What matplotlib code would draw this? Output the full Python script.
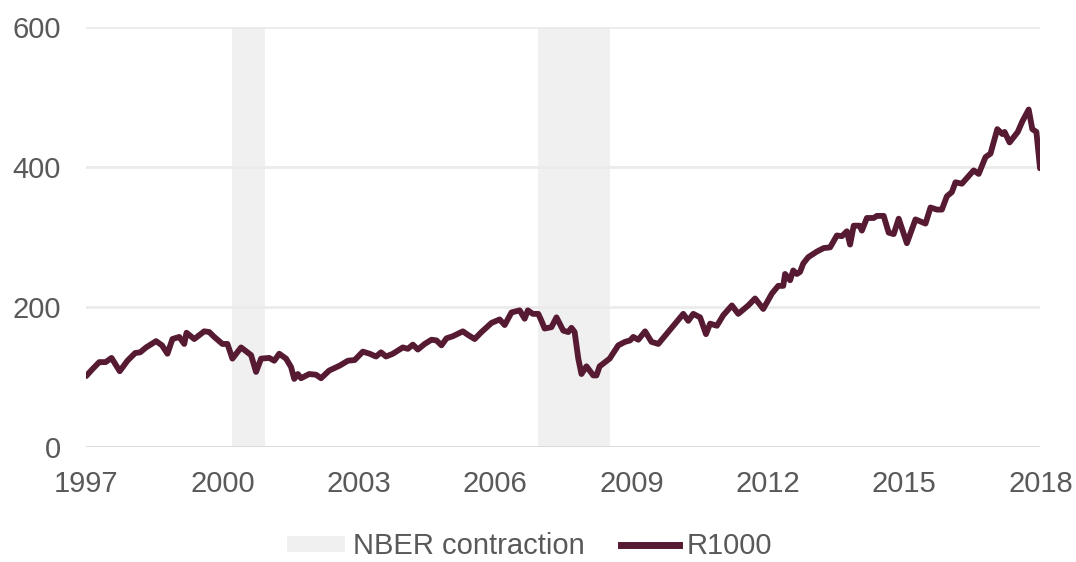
import matplotlib
matplotlib.use('Agg')
import matplotlib.pyplot as plt
from matplotlib.patches import Patch
from matplotlib.lines import Line2D

plt.rcParams['font.family'] = ['Liberation Sans', 'DejaVu Sans']

# R1000 index level (decimal year, value)
years = [
    1997.00, 1997.14, 1997.29, 1997.43, 1997.56, 1997.74, 1997.91, 1998.08,
    1998.19, 1998.32, 1998.54, 1998.67, 1998.79, 1998.90, 1999.05, 1999.16,
    1999.21, 1999.38, 1999.60, 1999.71, 1999.82, 2000.00, 2000.11, 2000.22,
    2000.41, 2000.63, 2000.74, 2000.85, 2001.03, 2001.14, 2001.25, 2001.40,
    2001.51, 2001.58, 2001.66, 2001.73, 2001.91, 2002.06, 2002.17, 2002.35,
    2002.58, 2002.76, 2002.91, 2003.09, 2003.24, 2003.38, 2003.49, 2003.60,
    2003.75, 2003.97, 2004.08, 2004.19, 2004.30, 2004.45, 2004.60, 2004.71,
    2004.82, 2004.93, 2005.07, 2005.29, 2005.40, 2005.55, 2005.70, 2005.92,
    2006.10, 2006.21, 2006.36, 2006.54, 2006.65, 2006.72, 2006.83, 2006.95,
    2007.02, 2007.09, 2007.24, 2007.35, 2007.50, 2007.61, 2007.68, 2007.75,
    2007.83, 2007.90, 2008.01, 2008.16, 2008.23, 2008.30, 2008.52, 2008.71,
    2008.86, 2008.97, 2009.04, 2009.15, 2009.30, 2009.44, 2009.59, 2009.77,
    2009.96, 2010.14, 2010.25, 2010.36, 2010.51, 2010.64, 2010.73, 2010.88,
    2011.02, 2011.21, 2011.35, 2011.57, 2011.72, 2011.90, 2012.09, 2012.23,
    2012.34, 2012.38, 2012.49, 2012.56, 2012.64, 2012.71, 2012.78, 2012.89,
    2013.08, 2013.23, 2013.37, 2013.52, 2013.63, 2013.74, 2013.81, 2013.89,
    2014.02, 2014.07, 2014.18, 2014.33, 2014.40, 2014.55, 2014.66, 2014.77,
    2014.88, 2015.06, 2015.25, 2015.47, 2015.58, 2015.72, 2015.83, 2015.94,
    2016.05, 2016.13, 2016.27, 2016.53, 2016.64, 2016.79, 2016.90, 2017.05,
    2017.16, 2017.21, 2017.32, 2017.50, 2017.60, 2017.74, 2017.82, 2017.91,
    2017.99,
]
r1000 = [
    101, 111, 121, 121, 127, 108, 123, 134,
    135, 142, 151, 145, 133, 154, 157, 147,
    163, 154, 165, 164, 157, 147, 147, 126,
    142, 131, 107, 126, 127, 123, 133, 126,
    114, 97, 104, 98, 104, 103, 98, 109,
    116, 123, 124, 136, 133, 129, 135, 129,
    133, 142, 140, 146, 139, 147, 153, 152,
    145, 155, 158, 165, 160, 154, 164, 177,
    182, 174, 192, 195, 183, 195, 190, 190,
    180, 169, 171, 185, 166, 164, 170, 164,
    126, 104, 115, 102, 102, 115, 126, 145,
    150, 152, 157, 153, 165, 150, 147, 161,
    176, 190, 180, 190, 185, 161, 176, 173,
    188, 202, 190, 202, 212, 197, 219, 230,
    230, 247, 238, 252, 247, 250, 262, 271,
    279, 284, 285, 302, 301, 308, 289, 316,
    316, 309, 327, 327, 330, 330, 306, 304,
    326, 291, 325, 319, 342, 339, 339, 358,
    364, 378, 376, 395, 390, 414, 419, 454,
    447, 450, 435, 450, 465, 482, 454, 450,
    398,
]

# NBER contraction periods as shown (start, end)
recessions = [(2000.20, 2000.94), (2006.94, 2008.52)]

xticks = [1997, 2000, 2003, 2006, 2009, 2012, 2015, 2018]
yticks = [0, 200, 400, 600]

line_color = '#561a33'
shade_color = '#f0f0f0'
text_color = '#595959'

fig = plt.figure(figsize=(10.76, 5.62), dpi=100)
ax = fig.add_axes([0.080, 0.205, 0.887, 0.747])

for (s, e) in recessions:
    ax.axvspan(s, e, color=shade_color, lw=0, zorder=0)

for y in yticks[1:]:
    ax.axhline(y, color='#ebebeb', lw=2, zorder=1)
ax.axhline(0, color='#d9d9d9', lw=2, zorder=1)

ax.plot(years, r1000, color=line_color, lw=4.2, solid_joinstyle='round',
        solid_capstyle='round', zorder=3)

ax.set_xlim(1997, 2018)
ax.set_ylim(0, 600)
ax.set_xticks(xticks)
ax.set_yticks(yticks)
ax.tick_params(length=0, labelsize=21, colors=text_color)
ax.tick_params(axis='x', pad=17)
ax.tick_params(axis='y', pad=18)
for sp in ax.spines.values():
    sp.set_visible(False)

handles = [
    Patch(facecolor=shade_color, edgecolor='none'),
    Line2D([0], [0], color=line_color, lw=5),
]
fig.legend(handles, ['NBER contraction', 'R1000'], loc='center',
           bbox_to_anchor=(0.492, 0.028), ncol=2, frameon=False, fontsize=21,
           labelcolor=text_color, handlelength=2.0, handleheight=0.5,
           handletextpad=0.25, columnspacing=1.25, borderpad=0.1)

fig.savefig('out.png', dpi=100)
